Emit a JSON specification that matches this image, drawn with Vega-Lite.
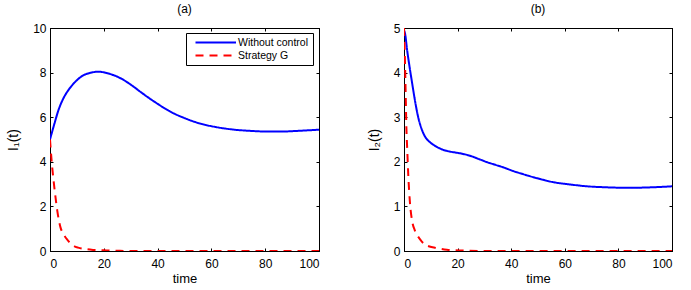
{
  "$schema": "https://vega.github.io/schema/vega-lite/v6.json",
  "padding": {"left": 6, "top": 2, "right": 8, "bottom": 2},
  "background": "white",
  "config": {
    "font": "Liberation Sans",
    "view": {"stroke": "black", "strokeWidth": 1},
    "axis": {"domainColor": "black", "tickColor": "black", "labelColor": "black", "titleColor": "black", "grid": false, "tickSize": -3, "labelFontSize": 12, "titleFontSize": 13, "titleFontWeight": "normal", "labelFont": "Liberation Sans", "titleFont": "Liberation Sans"},
    "axisX": {"labelPadding": 10, "titlePadding": 3},
    "axisY": {"labelPadding": 7, "titlePadding": 12},
    "title": {"fontSize": 12, "fontWeight": "normal", "offset": 6, "font": "Liberation Sans", "color": "black"},
    "concat": {"spacing": 46}
  },
  "datasets": {
    "curves": [
      {"panel": "a", "series": "Without control", "t": 0, "v": 5.0},
      {"panel": "a", "series": "Without control", "t": 1.5, "v": 5.65},
      {"panel": "a", "series": "Without control", "t": 3.3, "v": 6.37},
      {"panel": "a", "series": "Without control", "t": 5, "v": 6.85},
      {"panel": "a", "series": "Without control", "t": 7.1, "v": 7.26},
      {"panel": "a", "series": "Without control", "t": 9.5, "v": 7.6},
      {"panel": "a", "series": "Without control", "t": 12, "v": 7.85},
      {"panel": "a", "series": "Without control", "t": 15, "v": 7.99},
      {"panel": "a", "series": "Without control", "t": 18.2, "v": 8.04},
      {"panel": "a", "series": "Without control", "t": 21, "v": 7.98},
      {"panel": "a", "series": "Without control", "t": 24.4, "v": 7.85},
      {"panel": "a", "series": "Without control", "t": 27.5, "v": 7.66},
      {"panel": "a", "series": "Without control", "t": 30.6, "v": 7.41},
      {"panel": "a", "series": "Without control", "t": 33.7, "v": 7.13},
      {"panel": "a", "series": "Without control", "t": 36.8, "v": 6.86},
      {"panel": "a", "series": "Without control", "t": 40, "v": 6.6},
      {"panel": "a", "series": "Without control", "t": 43, "v": 6.37},
      {"panel": "a", "series": "Without control", "t": 46, "v": 6.17},
      {"panel": "a", "series": "Without control", "t": 49.2, "v": 6.0},
      {"panel": "a", "series": "Without control", "t": 55.4, "v": 5.73},
      {"panel": "a", "series": "Without control", "t": 61.6, "v": 5.56},
      {"panel": "a", "series": "Without control", "t": 67.8, "v": 5.45},
      {"panel": "a", "series": "Without control", "t": 74, "v": 5.39},
      {"panel": "a", "series": "Without control", "t": 80.2, "v": 5.36},
      {"panel": "a", "series": "Without control", "t": 86.4, "v": 5.36},
      {"panel": "a", "series": "Without control", "t": 92.6, "v": 5.39},
      {"panel": "a", "series": "Without control", "t": 100, "v": 5.44},
      {"panel": "a", "series": "Strategy G", "t": 0, "v": 5.0},
      {"panel": "a", "series": "Strategy G", "t": 0.6, "v": 4.05},
      {"panel": "a", "series": "Strategy G", "t": 1.2, "v": 3.3},
      {"panel": "a", "series": "Strategy G", "t": 1.9, "v": 2.56},
      {"panel": "a", "series": "Strategy G", "t": 2.7, "v": 1.81},
      {"panel": "a", "series": "Strategy G", "t": 3.9, "v": 1.06},
      {"panel": "a", "series": "Strategy G", "t": 5, "v": 0.76},
      {"panel": "a", "series": "Strategy G", "t": 6.2, "v": 0.54},
      {"panel": "a", "series": "Strategy G", "t": 7.5, "v": 0.36},
      {"panel": "a", "series": "Strategy G", "t": 8.7, "v": 0.24},
      {"panel": "a", "series": "Strategy G", "t": 10.5, "v": 0.15},
      {"panel": "a", "series": "Strategy G", "t": 13, "v": 0.09},
      {"panel": "a", "series": "Strategy G", "t": 16, "v": 0.05},
      {"panel": "a", "series": "Strategy G", "t": 20, "v": 0.03},
      {"panel": "a", "series": "Strategy G", "t": 25, "v": 0.01},
      {"panel": "a", "series": "Strategy G", "t": 30, "v": 0},
      {"panel": "a", "series": "Strategy G", "t": 50, "v": 0},
      {"panel": "a", "series": "Strategy G", "t": 75, "v": 0},
      {"panel": "a", "series": "Strategy G", "t": 100, "v": 0},
      {"panel": "b", "series": "Without control", "t": 0, "v": 4.95},
      {"panel": "b", "series": "Without control", "t": 0.4, "v": 4.87},
      {"panel": "b", "series": "Without control", "t": 1.2, "v": 4.49},
      {"panel": "b", "series": "Without control", "t": 2.1, "v": 4.12},
      {"panel": "b", "series": "Without control", "t": 3.1, "v": 3.74},
      {"panel": "b", "series": "Without control", "t": 4.1, "v": 3.37},
      {"panel": "b", "series": "Without control", "t": 5.3, "v": 3.0},
      {"panel": "b", "series": "Without control", "t": 6.8, "v": 2.7},
      {"panel": "b", "series": "Without control", "t": 8, "v": 2.55},
      {"panel": "b", "series": "Without control", "t": 9.3, "v": 2.46},
      {"panel": "b", "series": "Without control", "t": 11, "v": 2.38},
      {"panel": "b", "series": "Without control", "t": 13, "v": 2.31},
      {"panel": "b", "series": "Without control", "t": 15, "v": 2.26},
      {"panel": "b", "series": "Without control", "t": 17, "v": 2.23},
      {"panel": "b", "series": "Without control", "t": 20, "v": 2.2},
      {"panel": "b", "series": "Without control", "t": 22.5, "v": 2.17},
      {"panel": "b", "series": "Without control", "t": 24.9, "v": 2.13},
      {"panel": "b", "series": "Without control", "t": 28, "v": 2.06},
      {"panel": "b", "series": "Without control", "t": 31.1, "v": 1.99},
      {"panel": "b", "series": "Without control", "t": 34.2, "v": 1.93},
      {"panel": "b", "series": "Without control", "t": 37.3, "v": 1.87},
      {"panel": "b", "series": "Without control", "t": 40.4, "v": 1.8},
      {"panel": "b", "series": "Without control", "t": 43.5, "v": 1.74},
      {"panel": "b", "series": "Without control", "t": 49.8, "v": 1.63},
      {"panel": "b", "series": "Without control", "t": 56, "v": 1.54},
      {"panel": "b", "series": "Without control", "t": 62.2, "v": 1.49},
      {"panel": "b", "series": "Without control", "t": 68.4, "v": 1.45},
      {"panel": "b", "series": "Without control", "t": 74.6, "v": 1.43},
      {"panel": "b", "series": "Without control", "t": 80.8, "v": 1.42},
      {"panel": "b", "series": "Without control", "t": 87, "v": 1.42},
      {"panel": "b", "series": "Without control", "t": 93.3, "v": 1.43},
      {"panel": "b", "series": "Without control", "t": 100, "v": 1.45},
      {"panel": "b", "series": "Strategy G", "t": 0, "v": 5.0},
      {"panel": "b", "series": "Strategy G", "t": 0.3, "v": 4.4},
      {"panel": "b", "series": "Strategy G", "t": 0.6, "v": 3.6},
      {"panel": "b", "series": "Strategy G", "t": 0.9, "v": 2.75},
      {"panel": "b", "series": "Strategy G", "t": 1.2, "v": 2.29},
      {"panel": "b", "series": "Strategy G", "t": 1.6, "v": 1.7},
      {"panel": "b", "series": "Strategy G", "t": 2.2, "v": 1.1},
      {"panel": "b", "series": "Strategy G", "t": 3.1, "v": 0.65},
      {"panel": "b", "series": "Strategy G", "t": 4, "v": 0.47},
      {"panel": "b", "series": "Strategy G", "t": 5, "v": 0.35},
      {"panel": "b", "series": "Strategy G", "t": 6, "v": 0.26},
      {"panel": "b", "series": "Strategy G", "t": 7.5, "v": 0.16},
      {"panel": "b", "series": "Strategy G", "t": 9.5, "v": 0.1},
      {"panel": "b", "series": "Strategy G", "t": 11.8, "v": 0.07},
      {"panel": "b", "series": "Strategy G", "t": 16, "v": 0.03},
      {"panel": "b", "series": "Strategy G", "t": 22, "v": 0.01},
      {"panel": "b", "series": "Strategy G", "t": 30, "v": 0},
      {"panel": "b", "series": "Strategy G", "t": 50, "v": 0},
      {"panel": "b", "series": "Strategy G", "t": 75, "v": 0},
      {"panel": "b", "series": "Strategy G", "t": 100, "v": 0}
    ]
  },
  "hconcat": [
    {
      "width": 269,
      "height": 223,
      "title": {"text": "(a)"},
      "data": {"name": "curves"},
      "transform": [{"filter": "datum.panel === 'a'"}],
      "layer": [
        {
          "mark": {"type": "line", "strokeWidth": 2, "interpolate": "monotone", "clip": true},
          "encoding": {
            "x": {"field": "t", "type": "quantitative", "scale": {"domain": [0, 100], "nice": false}, "axis": {"values": [0, 20, 40, 60, 80, 100], "title": "time", "orient": "bottom"}},
            "y": {"field": "v", "type": "quantitative", "scale": {"domain": [0, 10], "nice": false}, "axis": {"values": [0, 2, 4, 6, 8, 10], "title": "I₁(t)", "orient": "left", "titleFontSize": 14}},
            "color": {"field": "series", "type": "nominal", "scale": {"domain": ["Without control", "Strategy G"], "range": ["#0000ff", "#ff0000"]}, "legend": {"orient": "none", "legendX": 136, "legendY": 5, "title": null, "strokeColor": "black", "fillColor": "white", "padding": 4, "symbolType": "M0,0H9", "symbolSize": 81, "symbolStrokeWidth": 2, "labelFontSize": 10.5, "labelColor": "black", "rowPadding": 2, "labelOffset": 37}},
            "strokeDash": {"field": "series", "type": "nominal", "scale": {"domain": ["Without control", "Strategy G"], "range": [[1, 0], [8, 6]]}},
            "order": {"field": "t", "type": "quantitative"}
          }
        },
        {
          "mark": {"type": "line", "opacity": 0},
          "encoding": {
            "x": {"field": "t", "type": "quantitative", "axis": {"values": [0, 20, 40, 60, 80, 100], "title": null, "orient": "top", "labels": false}},
            "y": {"field": "v", "type": "quantitative", "axis": {"values": [0, 2, 4, 6, 8, 10], "title": null, "orient": "right", "labels": false}},
            "detail": {"field": "series"}
          }
        }
      ],
      "resolve": {"axis": {"x": "independent", "y": "independent"}}
    },
    {
      "width": 268,
      "height": 223,
      "title": {"text": "(b)"},
      "data": {"name": "curves"},
      "transform": [{"filter": "datum.panel === 'b'"}],
      "layer": [
        {
          "mark": {"type": "line", "strokeWidth": 2, "interpolate": "monotone", "clip": true},
          "encoding": {
            "x": {"field": "t", "type": "quantitative", "scale": {"domain": [0, 100], "nice": false}, "axis": {"values": [0, 20, 40, 60, 80, 100], "title": "time", "orient": "bottom"}},
            "y": {"field": "v", "type": "quantitative", "scale": {"domain": [0, 5], "nice": false}, "axis": {"values": [0, 1, 2, 3, 4, 5], "title": "I₂(t)", "orient": "left", "titleFontSize": 14}},
            "color": {"field": "series", "type": "nominal", "scale": {"domain": ["Without control", "Strategy G"], "range": ["#0000ff", "#ff0000"]}, "legend": null},
            "strokeDash": {"field": "series", "type": "nominal", "scale": {"domain": ["Without control", "Strategy G"], "range": [[1, 0], [8, 6]]}, "legend": null},
            "order": {"field": "t", "type": "quantitative"}
          }
        },
        {
          "mark": {"type": "line", "opacity": 0},
          "encoding": {
            "x": {"field": "t", "type": "quantitative", "axis": {"values": [0, 20, 40, 60, 80, 100], "title": null, "orient": "top", "labels": false}},
            "y": {"field": "v", "type": "quantitative", "axis": {"values": [0, 1, 2, 3, 4, 5], "title": null, "orient": "right", "labels": false}},
            "detail": {"field": "series"}
          }
        }
      ],
      "resolve": {"axis": {"x": "independent", "y": "independent"}}
    }
  ],
  "resolve": {"scale": {"color": "independent", "strokeDash": "independent"}}
}
